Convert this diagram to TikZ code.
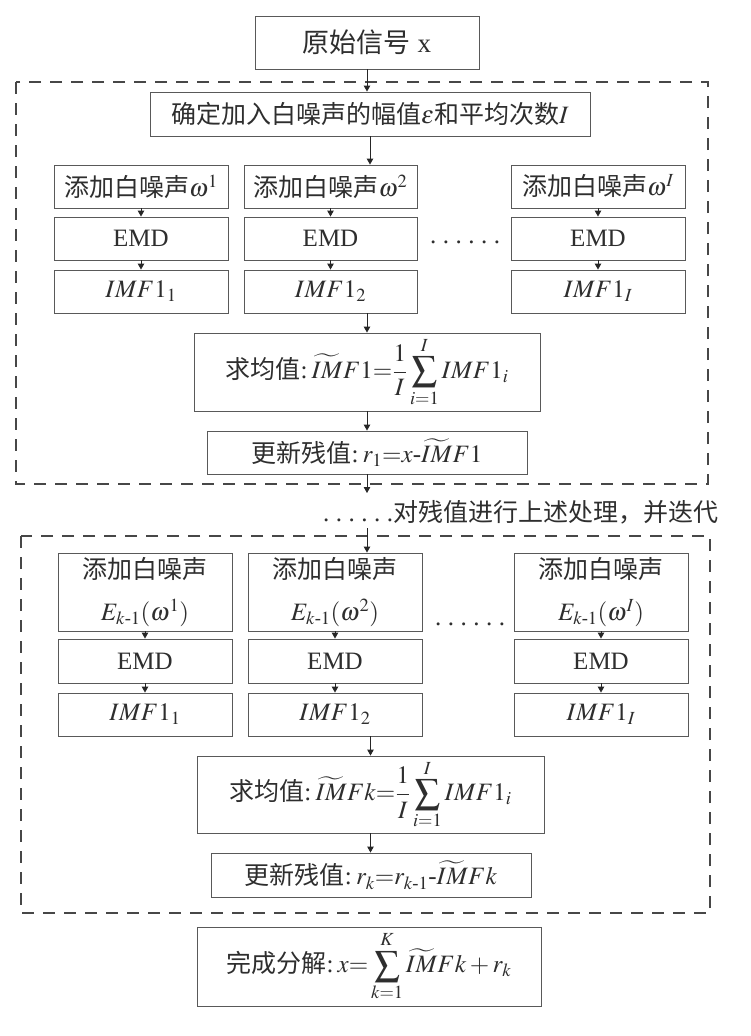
\documentclass[tikz,border=0pt]{standalone}
\usepackage{amsmath}
\usepackage{mathptmx}
\usepackage[no-math]{fontspec}
\setmainfont{Liberation Serif}
\newfontfamily\cjk{Noto Sans CJK SC}
\usetikzlibrary{arrows.meta}
\newcommand{\tIM}{\widetilde{IM}}
\newcommand{\eqq}{\mathord{=}}
\newcommand{\bodyfont}{\fontsize{25}{30}\selectfont}
\newcommand{\sixdots}{.\hspace{6.5pt}.\hspace{6.5pt}.\hspace{6.5pt}.\hspace{6.5pt}.\hspace{6.5pt}.}
\begin{document}
\begin{tikzpicture}[x=1pt,y=-1pt,
  box/.style={draw=black!65, line width=0.9pt, inner sep=0pt, text=black!82, font=\bodyfont},
  cell/.style={box, minimum width=174pt, minimum height=43pt},
  tallcell/.style={box, minimum width=174pt, minimum height=78pt, align=center, font=\fontsize{25}{42}\selectfont},
  frame/.style={draw=black!72, line width=1.6pt, dash pattern=on 12pt off 9pt},
  arr/.style={-{Triangle[length=6pt,width=6.5pt]}, line width=0.9pt, draw=black!85, fill=black!85},
  plain/.style={inner sep=0pt, text=black!82, font=\bodyfont}]
\useasboundingbox (0,0) rectangle (750,1036);
\fill[white] (0,0) rectangle (750,1036);

% dashed frames
\draw[frame] (16,82) rectangle (708,484);
\draw[frame] (21,536) rectangle (710,913);

% top
\node[box, minimum width=224pt, minimum height=53pt, font=\fontsize{27}{32}\selectfont] (top) at (367,42.5) {{\cjk 原始信号} x};
\node[box, minimum width=440pt, minimum height=44pt] (det) at (370,114) {{\cjk 确定加入白噪声的幅值}$\varepsilon${\cjk 和平均次数}$I$};

% section 1 columns
\node[cell] (a1) at (141,186.5) {{\cjk 添加白噪声}$\omega^{1}$};
\node[cell, minimum width=173pt] (a2) at (330.5,186.5) {{\cjk 添加白噪声}$\omega^{2}$};
\node[cell] (a3) at (598,186.5) {{\cjk 添加白噪声}$\omega^{I}$};
\node[cell] (e1) at (141,238.5) {EMD};
\node[cell, minimum width=173pt] (e2) at (330.5,238.5) {EMD};
\node[cell] (e3) at (598,238.5) {EMD};
\node[cell] (m1) at (141,291.5) {$IMF1_{1}$};
\node[cell, minimum width=173pt] (m2) at (330.5,291.5) {$IMF1_{2}$};
\node[cell] (m3) at (598,291.5) {$IMF1_{I}$};
\node[plain] (dots1) at (465,242) {\sixdots};

\node[box, minimum width=346pt, minimum height=78pt] (avg1) at (367,372) {{\cjk 求均值}:\,$\displaystyle\tIM F1\eqq\frac{1}{I}\sum_{i=1}^{I}IMF1_{i}$};
\node[box, minimum width=320pt, minimum height=43pt] (up1) at (367,452.5) {{\cjk 更新残值}:\,$r_{1}\eqq x\text{-}\tIM F1$};

\coordinate (c1) at (367,493);
\coordinate (c2) at (367,528);
\node[plain, anchor=west] (note) at (323,512) {\sixdots{\cjk 对残值进行上述处理，并迭代}};

% section 2 columns
\node[tallcell] (b1) at (145,592) {{\cjk 添加白噪声}\\$E_{k\text{-}1}(\omega^{1})$};
\node[tallcell] (b2) at (335,592) {{\cjk 添加白噪声}\\$E_{k\text{-}1}(\omega^{2})$};
\node[tallcell] (b3) at (601,592) {{\cjk 添加白噪声}\\$E_{k\text{-}1}(\omega^{I})$};
\node[cell, minimum height=44pt] (f1) at (145,661) {EMD};
\node[cell, minimum height=44pt] (f2) at (335,661) {EMD};
\node[cell, minimum height=44pt] (f3) at (601,661) {EMD};
\node[cell] (g1) at (145,714.5) {$IMF1_{1}$};
\node[cell] (g2) at (335,714.5) {$IMF1_{2}$};
\node[cell] (g3) at (601,714.5) {$IMF1_{I}$};
\node[plain] (dots2) at (470,624) {\sixdots};

\node[box, minimum width=347pt, minimum height=77pt] (avg2) at (370.5,794.5) {{\cjk 求均值}:\,$\displaystyle\tIM Fk\eqq\frac{1}{I}\sum_{i=1}^{I}IMF1_{i}$};
\node[box, minimum width=320pt, minimum height=44pt] (up2) at (371,875) {{\cjk 更新残值}:\,$r_{k}\eqq r_{k\text{-}1}\text{-}\tIM Fk$};
\node[box, minimum width=344pt, minimum height=79pt] (fin) at (369,966.5) {{\cjk 完成分解}:\,$\displaystyle x\eqq\sum_{k=1}^{K}\tIM Fk+r_{k}$};

% connectors
\draw[arr] (top.south) -- (top.south |- det.north);
\draw[arr] (det.south) -- (det.south |- a2.north);
\foreach \i in {1,2,3} {
  \draw[arr] (a\i.south) -- (e\i.north);
  \draw[arr] (e\i.south) -- (m\i.north);
  \draw[arr] (b\i.south) -- (f\i.north);
  \draw[arr] (f\i.south) -- (g\i.north);
}
\draw[arr] (avg1.north |- m2.south) -- (avg1.north);
\draw[arr] (avg1.south) -- (avg1.south |- up1.north);
\draw[arr] (up1.south) -- (c1);
\draw[arr] (c2) -- (c2 |- b2.north);
\draw[arr] (avg2.north |- g2.south) -- (avg2.north);
\draw[arr] (avg2.south) -- (avg2.south |- up2.north);
\end{tikzpicture}
\end{document}
